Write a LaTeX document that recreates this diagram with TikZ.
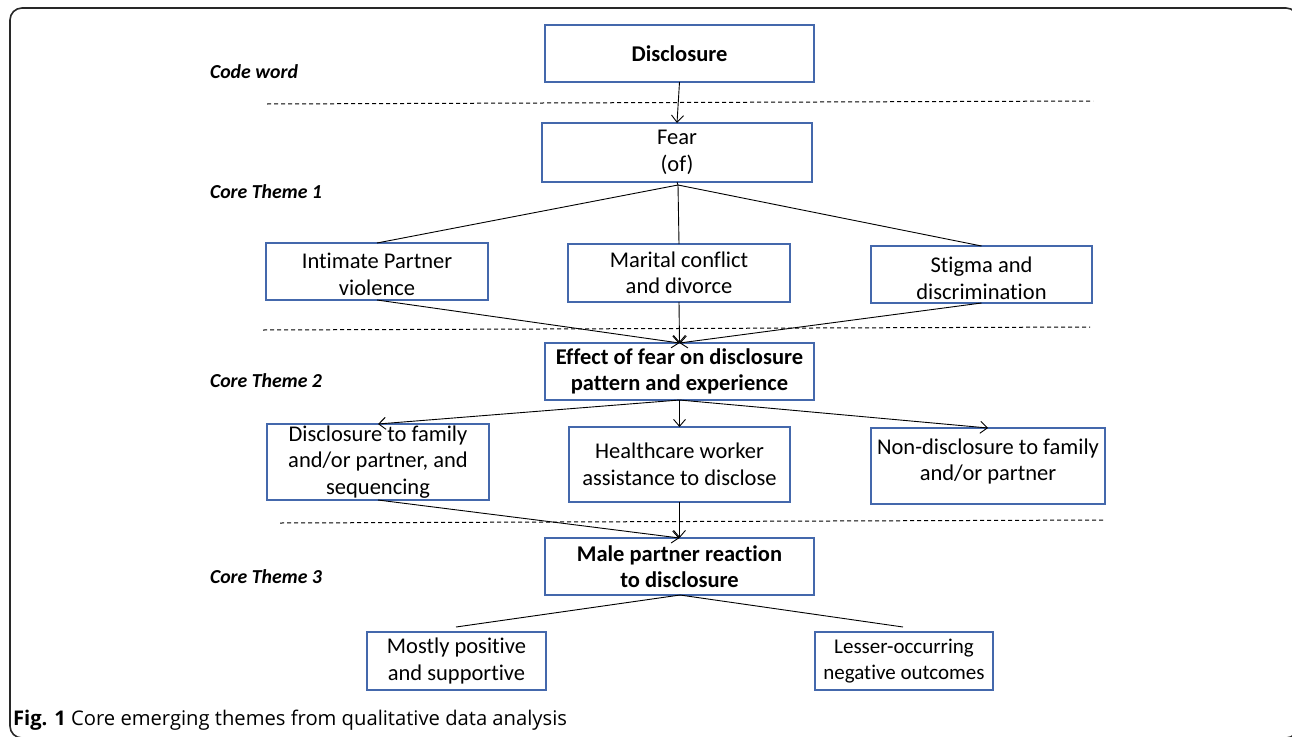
\documentclass[tikz,border=0pt]{standalone}
\usepackage{fontspec}
\setmainfont[Ligatures=NoCommon]{Carlito}
\newfontfamily\capfont{Open Sans}
\usetikzlibrary{arrows.meta}
\definecolor{boxblue}{RGB}{68,104,172}
\definecolor{framegray}{RGB}{40,40,40}
\begin{document}
\begin{tikzpicture}[x=1pt,y=-1pt,
  every node/.style={inner sep=0pt, outer sep=0pt},
  boxnode/.style={draw=boxblue, line width=1.3pt, align=center, font=\fontsize{22.5}{26.5}\selectfont},
  boldbox/.style={boxnode, font=\fontsize{22.5}{26.5}\selectfont\bfseries},
  themelabel/.style={anchor=west, font=\fontsize{19.8}{22}\selectfont\bfseries\itshape},
  conn/.style={draw=black, line width=0.9pt},
  arr/.style={conn, -{Straight Barb[length=7pt,width=12pt,line width=0.9pt]}},
  sep/.style={draw=black, line width=1pt, dash pattern=on 4pt off 3pt}
]
\useasboundingbox (0,0) rectangle (1292,736);
\fill[white] (0,0) rectangle (1292,736);

% frame
\begin{scope}
\clip (0,0) rectangle (1292,736);
\draw[framegray, line width=1.6pt, rounded corners=12pt] (10,738) -- (10,8) -- (1298,8) -- (1298,738) -- cycle;
\end{scope}

% boxes
\node[boldbox, minimum width=269pt, minimum height=57pt] (disc) at (679.5,53.5) {Disclosure};
\node[boxnode, minimum width=270pt, minimum height=59pt] (fear) at (677,152.5) {Fear\\(of)};
\node[boxnode, minimum width=222pt, minimum height=57pt] (ipv) at (377,271.5) {\rule{0pt}{21pt}Intimate Partner\\violence};
\node[boxnode, minimum width=222pt, minimum height=58pt] (mcd) at (679,273) {Marital conflict\\and divorce};
\node[boxnode, minimum width=221pt, minimum height=57pt] (stig) at (981.5,274.5) {\rule{0pt}{23pt}Stigma and\\discrimination};
\node[boldbox, minimum width=269pt, minimum height=57pt] (eff) at (679.5,371.5) {Effect of fear on disclosure\\pattern and experience};
\node[boxnode, minimum width=222pt, minimum height=76pt] (dtf) at (378,462) {Disclosure to family\\and/or partner, and\\sequencing};
\node[boxnode, minimum width=221pt, minimum height=75pt] (hcw) at (679.5,464.5) {Healthcare worker\\assistance to disclose};
\node[boxnode, minimum width=234pt, minimum height=76pt] (nd) at (988,466) {Non-disclosure to family\\and/or partner\\[-14pt]};
\node[boldbox, minimum width=269pt, minimum height=57pt] (male) at (679.5,566.5) {Male partner reaction\\to disclosure};
\node[boxnode, minimum width=179pt, minimum height=58pt] (pos) at (456.5,661) {Mostly positive\\and supportive};
\node[boxnode, minimum width=178pt, minimum height=58pt, font=\fontsize{21}{26.5}\selectfont] (neg) at (904,661) {Lesser-occurring\\negative outcomes};

% theme labels
\node[themelabel] (l0) at (210,72) {Code word};
\node[themelabel] (l1) at (210,192) {Core Theme 1};
\node[themelabel] (l2) at (210,381) {Core Theme 2};
\node[themelabel] (l3) at (210,577) {Core Theme 3};

% separators
\draw[sep] (267,104) -- (1093,101);
\draw[sep] (263,330) -- (1090,327);
\draw[sep] (280,523) -- (1105,520);

% connectors
\coordinate (fapex) at (678,185);
\coordinate (mapex) at (680,595);
\coordinate (posend) at (456,627);
\coordinate (negend) at (903,627);

\draw[arr] (disc.south) -- (fear.north);
\draw[conn] (fear.south) -- (fapex);
\draw[conn] (fapex) -- (ipv.north);
\draw[conn] (fapex) -- (mcd.north);
\draw[conn] (fapex) -- (stig.north);

\draw[arr] (ipv.south) -- (eff.north);
\draw[arr] (mcd.south) -- (eff.north);
\draw[arr] (stig.south) -- (eff.north);

\draw[arr] (eff.south) -- (dtf.north);
\draw[arr] (eff.south) -- (hcw.north);
\draw[arr] (eff.south) -- (nd.north);

\draw[arr] (dtf.south) -- (male.north);
\draw[arr] (hcw.south) -- (male.north);

\draw[conn] (mapex) -- (posend);
\draw[conn] (mapex) -- (negend);

% caption
\node[anchor=west, font=\fontsize{20.2}{24}\selectfont\capfont] (cap) at (13,720) {\textbf{Fig. 1} Core emerging themes from qualitative data analysis};
\end{tikzpicture}
\end{document}
